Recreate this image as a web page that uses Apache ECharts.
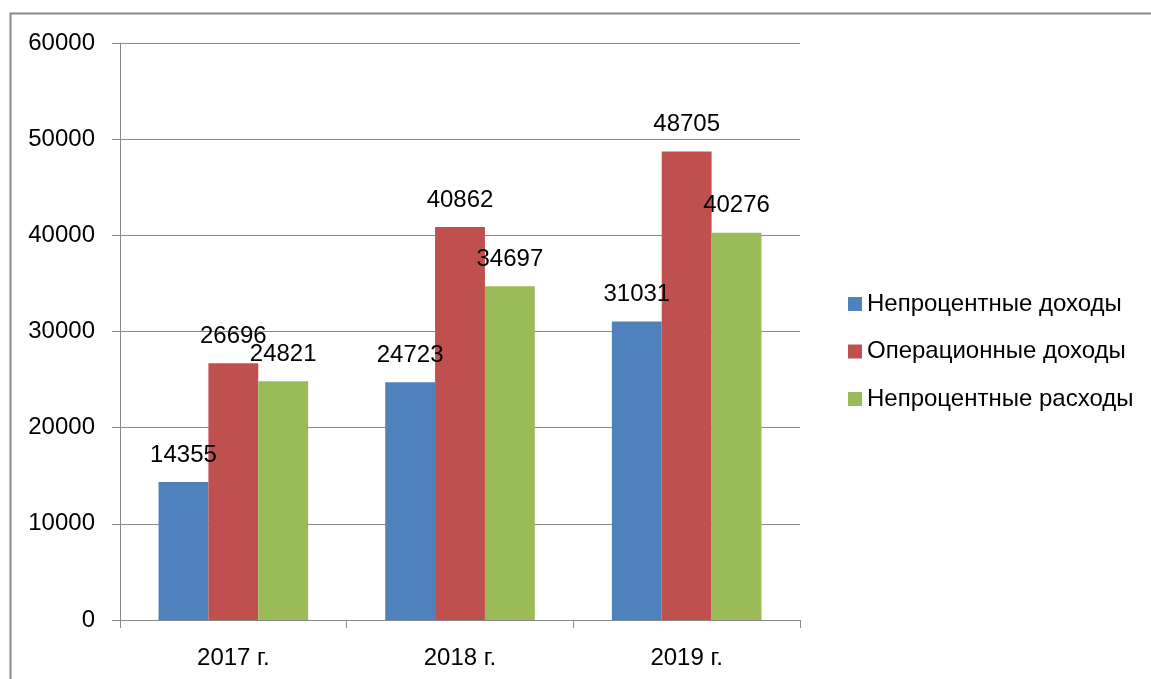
<!DOCTYPE html>
<html>
<head>
<meta charset="utf-8">
<script src="https://cdn.jsdelivr.net/npm/echarts@6/dist/echarts.min.js"></script>
<style>
  html, body { margin: 0; padding: 0; background: #fff; }
  #chart { width: 1151px; height: 679px; }
</style>
</head>
<body>
<div id="chart"></div>
<script>
var years = ['2017 г.', '2018 г.', '2019 г.'];
var nonInterestIncome = [14355, 24723, 31031];
var operatingIncome = [26696, 40862, 48705];
var nonInterestExpense = [24821, 34697, 40276];
var seriesNames = ['Непроцентные доходы', 'Операционные доходы', 'Непроцентные расходы'];

var font = 'Liberation Sans';
var fontSize = 24;
var myChart = echarts.init(document.getElementById('chart'));

function barSeries(name, data) {
    return {
        name: name,
        type: 'bar',
        data: data,
        barGap: '0%',
        barCategoryGap: '34%',
        label: {
            show: true,
            position: 'top',
            distance: 15,
            color: '#000',
            fontFamily: font,
            fontSize: fontSize
        }
    };
}

var option = {
    color: ['#4F81BD', '#C0504D', '#9BBB59'],
    animation: false,
    graphic: [{
        type: 'rect',
        shape: { x: 10.5, y: 13.5, width: 1200, height: 700 },
        style: { fill: 'none', stroke: '#898989', lineWidth: 2 }
    }],
    legend: {
        orient: 'vertical',
        left: 843,
        top: 287,
        itemWidth: 14,
        itemHeight: 14,
        itemGap: 23.5,
        icon: 'rect',
        textStyle: { fontFamily: font, fontSize: fontSize, color: '#000' },
        data: seriesNames
    },
    grid: { left: 120, right: 351, top: 43, bottom: 59 },
    xAxis: {
        type: 'category',
        data: years,
        axisLine: { lineStyle: { color: '#898989', width: 1 } },
        axisTick: { show: true, length: 8, lineStyle: { color: '#898989' } },
        axisLabel: { color: '#000', fontFamily: font, fontSize: fontSize, margin: 26 }
    },
    yAxis: {
        type: 'value',
        min: 0,
        max: 60000,
        interval: 10000,
        axisLine: { show: true, lineStyle: { color: '#898989' } },
        axisTick: { show: true, length: 8, lineStyle: { color: '#898989' } },
        splitLine: { lineStyle: { color: '#898989' } },
        axisLabel: {
            color: '#000', fontFamily: font, fontSize: fontSize, margin: 25,
            formatter: function (v) { return String(v); }
        }
    },
    series: [
        barSeries(seriesNames[0], nonInterestIncome),
        barSeries(seriesNames[1], operatingIncome),
        barSeries(seriesNames[2], nonInterestExpense)
    ]
};

myChart.setOption(option, true);
</script>
</body>
</html>
